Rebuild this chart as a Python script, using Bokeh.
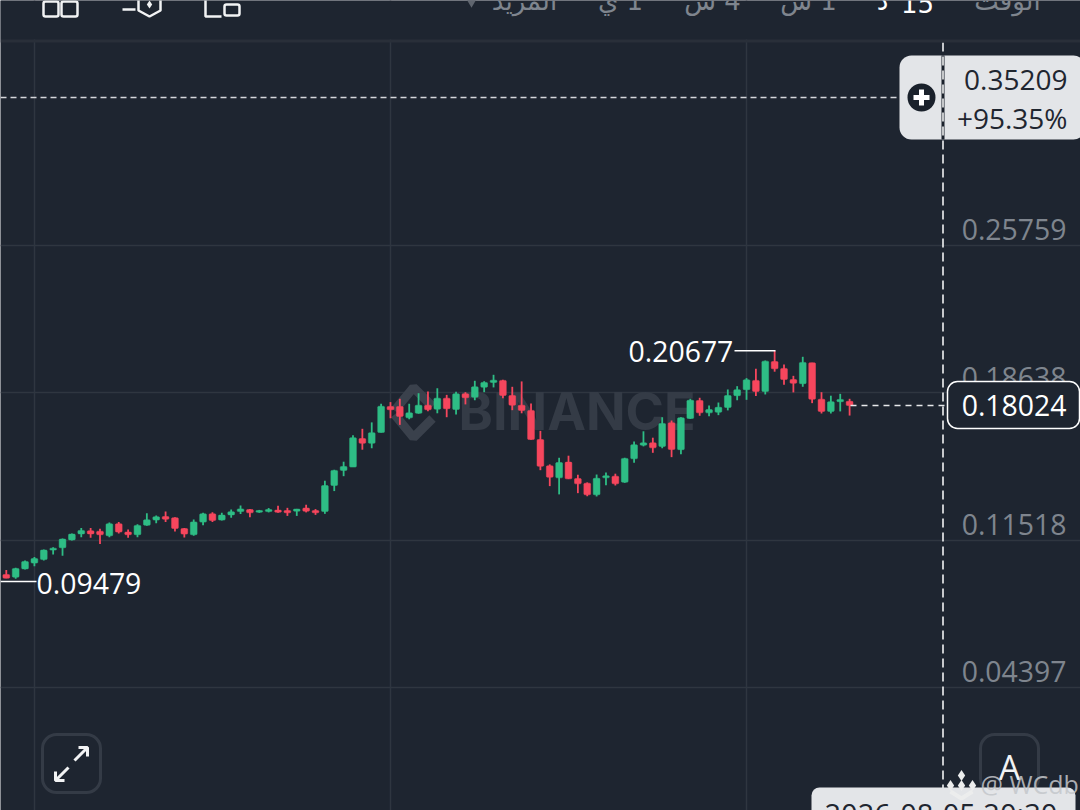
from bokeh.plotting import figure
from bokeh.models import Range1d, Grid, FixedTicker
from bokeh.core.properties import value
from bokeh.embed import file_html
from bokeh.resources import INLINE

# ---- candle data (91 candles) ----
opens = [.0986,.0973,.1013,.1041,.1058,.1104,.1115,.1153,.1182,.1197,.1195,.1173,.1231,.1191,.1178,.1224,.1249,.1266,.1260,.1208,
         .1178,.1239,.1279,.1249,.1274,.1290,.1300,.1287,.1290,.1297,.1295,.1292,.1307,.1295,.1290,.1416,.1489,.1505,.1643,.1620,
         .1672,.1798,.1798,.1743,.1765,.1804,.1785,.1838,.1783,.1859,.1843,.1891,.1914,.1924,.1851,.1804,.1779,.1638,.1511,.1453,
         .1529,.1450,.1427,.1371,.1453,.1461,.1432,.1545,.1611,.1622,.1605,.1719,.1589,.1740,.1827,.1767,.1770,.1793,.1850,.1879,
         .1924,.1870,.2015,.1982,.1928,.1908,.2009,.1833,.1774,.1821,.1823]
highs = [.1008,.1018,.1054,.1070,.1107,.1118,.1160,.1184,.1210,.1211,.1207,.1237,.1239,.1203,.1229,.1282,.1271,.1290,.1263,.1211,
         .1252,.1284,.1287,.1284,.1300,.1319,.1303,.1298,.1307,.1318,.1308,.1303,.1323,.1302,.1439,.1492,.1531,.1659,.1690,.1721,
         .1811,.1819,.1835,.1811,.1862,.1870,.1886,.1854,.1869,.1867,.1922,.1920,.1951,.1927,.1893,.1919,.1812,.1680,.1518,.1550,
         .1560,.1468,.1431,.1469,.1479,.1473,.1550,.1629,.1678,.1647,.1746,.1730,.1746,.1835,.1840,.1803,.1817,.1880,.1896,.1935,
         .1980,.2020,.20677,.2001,.1946,.2038,.2009,.1867,.1850,.1859,.1835]
lows = [.0968,.0965,.1010,.1026,.1054,.1083,.1076,.1150,.1166,.1163,.1133,.1166,.1184,.1163,.1166,.1221,.1234,.1239,.1194,.1165,
        .1173,.1224,.1239,.1247,.1260,.1278,.1263,.1284,.1286,.1284,.1269,.1269,.1286,.1274,.1279,.1389,.1461,.1505,.1589,.1596,
        .1672,.1741,.1709,.1736,.1763,.1775,.1765,.1746,.1759,.1808,.1828,.1867,.1890,.1838,.1780,.1765,.1637,.1490,.1413,.1373,
        .1447,.1379,.1364,.1363,.1417,.1416,.1429,.1526,.1605,.1574,.1596,.1553,.1567,.1738,.1753,.1751,.1756,.1779,.1828,.1830,
        .1848,.1856,.1966,.1903,.1866,.1893,.1814,.1764,.1764,.1774,.1754]
closes = [.0968,.1015,.1049,.1063,.1104,.1113,.1157,.1181,.1199,.1182,.1178,.1231,.1191,.1178,.1223,.1250,.1265,.1253,.1208,.1181,
          .1240,.1279,.1247,.1273,.1289,.1303,.1284,.1295,.1300,.1287,.1284,.1302,.1292,.1284,.1416,.1489,.1508,.1647,.1620,.1671,
          .1799,.1782,.1750,.1767,.1804,.1782,.1838,.1787,.1859,.1840,.1893,.1914,.1925,.1851,.1804,.1779,.1638,.1509,.1456,.1527,
          .1448,.1424,.1371,.1451,.1463,.1424,.1547,.1613,.1622,.1598,.1716,.1590,.1743,.1828,.1767,.1783,.1794,.1851,.1879,.1927,
          .1870,.2017,.1980,.1928,.1910,.2011,.1833,.1774,.1821,.1832,.18024]

price_ticks = [0.25759, 0.18638, 0.11518, 0.04397]
price_labels = ["0.25759", "0.18638", "0.11518", "0.04397"]
time_grid = [3, 41, 79]
last_price = 0.18024
high_label = "0.20677"
low_label = "0.09479"
low_level = 0.0952
alert_level = 0.3291
alert_labels = ["0.35209", "+95.35%"]
date_label = "2026-08-05 20:30"
RLM = "\u200f"
tab_labels = ["الوقت", "د", "15", RLM + "1 \u0633", RLM + "4 \u0633", RLM + "1 \u064a", "المزيد"]

BG, UP, DOWN = "#1e2530", "#2ebd85", "#f6465d"
GRID, GREY, PILL = "#2f3640", "#7f858e", "#e3e5e8"
FONT = value("Open Sans")
WMFONT = value("Inter")
ARAB = value("DejaVu Sans")
NUM = "28.4px"

X0, Y0 = 0, 0
W, H = 1080, 810
STEP, FIRST = 9.37, 5.8          # px per candle, px of candle 0
SLOPE = (0.25759 - 0.04397) / (687 - 245)

p = figure(width=W, height=H, output_backend="svg", toolbar_location=None,
           x_axis_location=None, y_axis_location=None,
           x_range=Range1d((X0 - FIRST) / STEP, (X0 + W - FIRST) / STEP),
           y_range=Range1d(0.25759 - (Y0 + H - 245) * SLOPE, 0.25759 + (245 - Y0) * SLOPE),
           background_fill_color=BG, border_fill_color=BG, outline_line_color=None,
           min_border=0, min_border_left=0, min_border_right=0, min_border_top=0, min_border_bottom=0)
p.grid.visible = False
p.extra_x_ranges["px"] = Range1d(X0, X0 + W)
p.extra_y_ranges["px"] = Range1d(Y0 + H, Y0)
px = dict(x_range_name="px", y_range_name="px")

p.add_layout(Grid(dimension=0, ticker=FixedTicker(ticks=time_grid), grid_line_color=GRID, grid_line_width=1.5))
p.add_layout(Grid(dimension=1, ticker=FixedTicker(ticks=price_ticks), grid_line_color=GRID, grid_line_width=1.5))

# watermark
WM = "#3a414c"
p.multi_line([[394, 413, 432], [394, 413, 432]], [[410, 387, 406], [414, 437, 418]],
             line_color=WM, line_width=9, **px)
p.text([458], [411], text=["BINANCE"], text_font=WMFONT, text_font_style="bold", text_font_size="52px",
       text_color="#343b46", text_baseline="middle", text_align="left", **px)

# candles
xs = list(range(len(opens)))
colors = [UP if c >= o else DOWN for o, c in zip(opens, closes)]
p.segment(xs, highs, xs, lows, line_color=colors, line_width=1.8)
p.vbar(xs, 0.72, [max(o, c) for o, c in zip(opens, closes)], [min(o, c) for o, c in zip(opens, closes)],
       fill_color=colors, line_color=colors, line_width=0.5, border_radius=1)

# price labels
p.text([1066] * 4, [229, 377, 524, 671], text=price_labels, text_font=FONT, text_font_size=NUM,
       text_color=GREY, text_align="right", text_baseline="middle", **px)

# high / low annotations
p.line([0, 36], [low_level, low_level], x_range_name="px", line_color="white", line_width=1.5)
p.line([734, 775], [0.20677, 0.20677], x_range_name="px", line_color="white", line_width=1.5)
p.text([36], [583], text=[low_label], text_font=FONT, text_font_size=NUM, text_color="white",
       text_baseline="middle", **px)
p.text([628], [351], text=[high_label], text_font=FONT, text_font_size=NUM, text_color="white",
       text_baseline="middle", **px)

# alert line and pill
p.line([0, 900], [alert_level, alert_level], x_range_name="px", line_color="#d5d7da", line_width=1.5, line_dash="6 4")
p.quad(left=[899], right=[1085], top=[55], bottom=[139], fill_color=PILL, line_color=None, border_radius=12, **px)
p.circle([921], [97], radius=14, fill_color="#1a212b", line_color=None, **px)
p.multi_line([[913, 929], [921, 921]], [[97, 97], [89, 105]], line_color="white", line_width=5, **px)
p.text([1067, 1067], [79, 117], text=alert_labels, text_font=FONT, text_font_size="28px", text_color="#1f2630",
       text_align="right", text_baseline="middle", **px)

# last price
p.line([850, 945], [last_price, last_price], x_range_name="px", line_color="#e8e9eb", line_width=1.5, line_dash="6 5")
p.quad(left=[947], right=[1079], top=[381], bottom=[428], fill_color=BG, line_color="white", line_width=1.5,
       border_radius=10, **px)
p.text([1066], [405], text=[f"{last_price:.5f}"], text_font=FONT, text_font_size=NUM, text_color="white",
       text_align="right", text_baseline="middle", **px)

# crosshair
p.line([942.5, 942.5], [55, 139], line_color="#1a212b", line_width=3, **px)
p.line([942.5, 942.5], [42, 790], line_color="white", line_width=1.5, line_dash="9 5", **px)

# bottom buttons
p.quad(left=[42, 980], right=[100, 1038], top=[734, 734], bottom=[792, 792], fill_color=BG, line_color="#343b46",
       line_width=3, border_radius=14, **px)
p.multi_line([[74, 87], [78, 87, 87], [68, 55], [55, 55, 64]],
             [[760, 747], [747, 747, 756], [767, 780], [771, 780, 780]], line_color="#f2f3f4", line_width=3, **px)
p.text([1009], [766], text=["A"], text_font=FONT, text_font_size="34px", text_color="#f2f3f4",
       text_align="center", text_baseline="middle", **px)

# date pill and credit
p.quad(left=[811], right=[1075], top=[787], bottom=[830], fill_color=PILL, line_color=None, border_radius=8, **px)
p.text([824], [813], text=[date_label], text_font=FONT, text_font_size="29px", text_color="#1f2630",
       text_baseline="middle", **px)
p.text([980], [783], text=["@ WCdb"], text_font=FONT, text_font_size="25px", text_color="#c4c7cb",
       text_alpha=0.85, text_baseline="middle", **px)
p.scatter([961, 950, 972, 961], [775, 785, 785, 785], size=11, marker="diamond", fill_color="#eceded", line_color=None, **px)
p.multi_line([[950, 961, 972]], [[791, 798, 791]], line_color="#eceded", line_width=4, **px)

# top toolbar
p.quad(left=[0], right=[1085], top=[0], bottom=[39], fill_color=BG, line_color=None, **px)
p.quad(left=[0], right=[1085], top=[39], bottom=[42], fill_color="#292f39", line_color=None, **px)
p.text([1007, 882, 917, 808, 712, 620, 524], [0, 0, 2, 0, 0, 0, 0], text=tab_labels,
       text_font=ARAB, text_font_size="26px",
       text_color=[GREY, "white", "white", GREY, GREY, GREY, GREY],
       text_align="center", text_baseline="middle", **px)
p.scatter([471], [1], size=11, marker="inverted_triangle", fill_color="#5f656e", line_color=None, **px)
p.quad(left=[43, 61, 224], right=[58, 77, 239], top=[1, 1, 4], bottom=[16, 16, 15], fill_color=None,
       line_color="#f2f3f4", line_width=2.5, border_radius=2, **px)
p.multi_line([[122, 135], [138, 138, 149, 160, 160], [205, 205, 221]],
             [[9, 9], [-4, 10, 16, 10, -4], [-2, 16, 16]], line_color="#f2f3f4", line_width=2.5, **px)
p.scatter([149], [4], size=8, marker="diamond", fill_color="#f2f3f4", line_color=None, **px)

open("out.html", "w").write(file_html(p, INLINE))
